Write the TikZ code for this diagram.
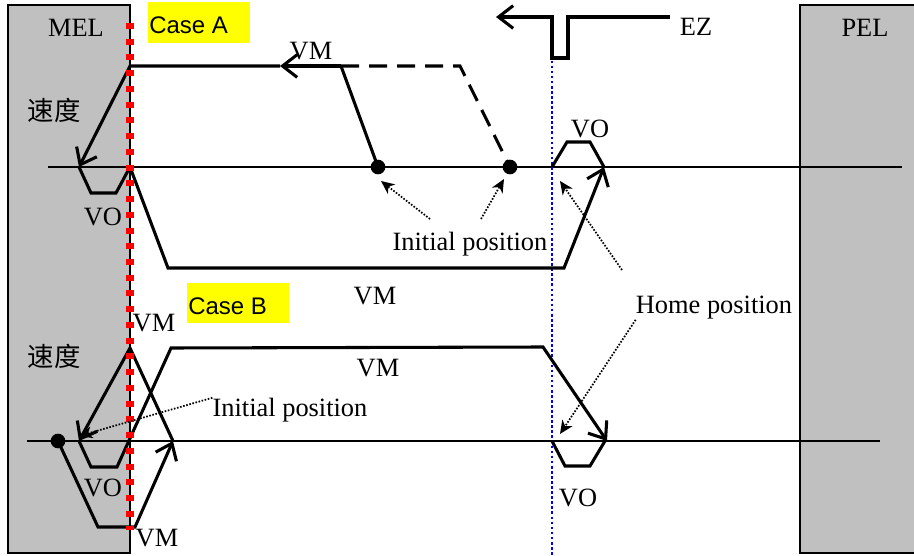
\documentclass[tikz,border=0pt]{standalone}
\usepackage{fontspec}
\setmainfont{Liberation Serif}
\newfontfamily\cjk{Noto Sans CJK SC}
\newfontfamily\casefont{Liberation Sans}
\usetikzlibrary{arrows.meta}
\definecolor{elgray}{HTML}{C0C0C0}
\definecolor{caseyellow}{HTML}{FFFF00}
\tikzset{
  profile/.style={line width=2.3pt},
  head/.style={-{Straight Barb[length=11pt,width=17pt]}},
  pointer/.style={line width=1.3pt, dash pattern=on 1.2pt off 1.2pt, -{Stealth[length=10pt,width=9pt,inset=3pt]}},
  lbl/.style={inner sep=0pt, font=\fontsize{19.8}{22}\selectfont},
  casetext/.style={inner sep=0pt, anchor=west, font=\casefont\fontsize{18}{20}\selectfont},
  dot/.style={circle, fill, inner sep=0pt, minimum size=11pt},
  limit/.style={fill=elgray, draw, line width=1.5pt}
}
\begin{document}
\begin{tikzpicture}[x=0.75pt, y=-0.75pt]
\useasboundingbox (0,0) rectangle (914,556);
\draw[limit] (8,5) rectangle (130,553);
\draw[limit] (800,5) rectangle (925,553);
\fill[caseyellow] (148,2) rectangle (250,43);
\fill[caseyellow] (187,283) rectangle (289,323);
\node[casetext] (casea) at (149,25) {Case A};
\node[casetext] (caseb) at (188,306) {Case B};
\node[lbl] (mel) at (76,28) {MEL};
\node[lbl] (pel) at (865,28) {PEL};
\draw[line width=1.1pt] (48,167) -- (902,167);
\draw[line width=1.1pt] (27,441) -- (880,441);
\draw[blue, line width=2.2pt, dash pattern=on 2pt off 1.8pt] (552,20) -- (552,556);
% EZ
\draw[profile, head] (670,17) -- (568,17) -- (568,58) -- (552,58) -- (552,17) -- (496,17);
\node[lbl] (ez) at (696,27) {EZ};
% Case A
\node[dot] (inia) at (378,167) {};
\node[dot] (inib) at (510,167) {};
\draw[profile] (inia.center) -- (341,66);
\draw[profile, dash pattern=on 13.5pt off 7.5pt] (341,66) -- (460,66) -- (inib.center);
\draw[profile, head] (341,66) -- (280,66);
\draw[profile, head] (280,66) -- (130,66) -- (79,167);
\draw[profile] (79,167) -- (91,193) -- (116,193) -- (130,167);
\draw[profile, head] (130,167) -- (168,268) -- (564,268) -- (604,167);
\draw[profile] (552,167) -- (567,142) -- (590,142) -- (604,167);
% Case B
\node[dot] (inic) at (58,441) {};
\draw[profile, head] (inic.center) -- (98,527) -- (135,527) -- (173,441);
\draw[profile, head] (173,441) -- (130,348) -- (79,441);
\draw[profile, head] (79,441) -- (91,467) -- (117,467) -- (171,348) -- (543,347) -- (607,441);
\draw[profile] (552,441) -- (565,466) -- (590,466) -- (605,441);
\draw[red, line width=5.5pt, dash pattern=on 4.5pt off 7.3pt] (130,23) -- (130,530);
% labels
\node[lbl] (vma) at (311,51) {VM};
\node[lbl] (spda) at (54,110) {\cjk 速度};
\node[lbl] (voa) at (103,217) {VO};
\node[lbl] (vob) at (590,129) {VO};
\node[lbl] (initA) at (470,244) {Initial position};
\node[lbl] (vmb) at (375,296) {VM};
\node[lbl] (home) at (714,308) {Home position};
\node[lbl] (vmc) at (154,323) {VM};
\node[lbl] (spdb) at (54,356) {\cjk 速度};
\node[lbl] (vmd) at (378,368) {VM};
\node[lbl] (initB) at (290,410) {Initial position};
\node[lbl] (voc) at (103,488) {VO};
\node[lbl] (vod) at (578,498) {VO};
\node[lbl] (vme) at (157,538) {VM};
% pointers
\coordinate (fromA1) at (430,219);
\coordinate (fromA2) at (481,219);
\coordinate (fromH1) at (622,270);
\coordinate (homeA) at (560,181);
\coordinate (homeB) at (560,434);
\coordinate (startC) at (79,436);
\draw[pointer] (fromA1) -- (381,181);
\draw[pointer] (fromA2) -- (504,179);
\draw[pointer] (fromH1) -- (homeA);
\draw[pointer] (home.south west) -- (homeB);
\draw[pointer] (initB.north west) -- (startC);
\end{tikzpicture}
\end{document}
